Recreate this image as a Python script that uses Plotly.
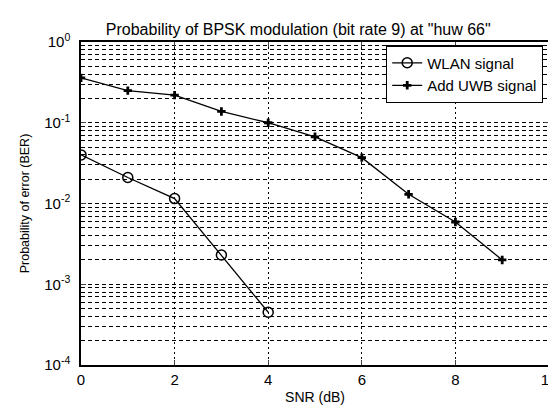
import plotly.graph_objects as go

snr_wlan = [0, 1, 2, 3, 4]
ber_wlan = [0.040, 0.021, 0.0115, 0.0023, 0.00045]
snr_uwb = [0, 1, 2, 3, 4, 5, 6, 7, 8, 9]
ber_uwb = [0.36, 0.25, 0.22, 0.138, 0.10, 0.067, 0.037, 0.013, 0.0059, 0.0020]

x_ticks = [0, 2, 4, 6, 8, 10]
y_tickvals = [1, 0.1, 0.01, 0.001, 0.0001]
y_ticktext = ["10<sup>0</sup>", "10<sup>-1</sup>", "10<sup>-2</sup>", "10<sup>-3</sup>", "10<sup>-4</sup>"]

fig = go.Figure()
fig.add_trace(go.Scatter(
    x=snr_wlan, y=ber_wlan, mode="lines+markers", name="WLAN signal",
    line=dict(color="black", width=1.3),
    marker=dict(symbol="circle-open", size=10, color="black", line=dict(width=1.5)),
))
fig.add_trace(go.Scatter(
    x=snr_uwb, y=ber_uwb, mode="lines+markers", name="Add UWB signal",
    line=dict(color="black", width=1.3),
    marker=dict(symbol="cross", size=7, color="black"),
))

fig.update_layout(
    width=556, height=407,
    margin=dict(l=73, r=15, t=34, b=50),
    paper_bgcolor="white", plot_bgcolor="white",
    font=dict(family="Arial, Liberation Sans, sans-serif", color="black", size=12),
    title=dict(text="Probability of BPSK modulation (bit rate 9) at \"huw 66\"",
               x=0.522, xanchor="center", y=0.948, yanchor="middle",
               font=dict(size=16)),
    showlegend=True,
    legend=dict(x=0.987, y=0.99, xanchor="right", yanchor="top",
                bgcolor="white", bordercolor="black", borderwidth=1.3,
                font=dict(size=15), tracegroupgap=0, itemwidth=30),
)
fig.update_xaxes(
    range=[0, 10], tickvals=x_ticks, ticks="inside", ticklen=5,
    showline=True, linecolor="black", linewidth=1.5, mirror="ticks",
    showgrid=True, gridcolor="black", griddash="2px,3px", gridwidth=1.2,
    zeroline=False, tickfont=dict(size=15), automargin=False,
    title=dict(text="SNR (dB)", font=dict(size=14), standoff=5),
)
fig.update_yaxes(
    type="log", range=[-4, 0], tickvals=y_tickvals, ticktext=y_ticktext,
    ticks="inside", ticklen=5, ticklabelstandoff=6,
    showline=True, linecolor="black", linewidth=1.5, mirror="ticks",
    showgrid=True, gridcolor="black", griddash="4px,3px", gridwidth=1.2,
    minor=dict(dtick="D1", showgrid=True, gridcolor="black", griddash="4px,3px", gridwidth=1.2, ticks=""),
    zeroline=False, tickfont=dict(size=15), automargin=False,
    title=dict(text="Probability of error (BER)", font=dict(size=12.5), standoff=12),
)

fig.write_html("out.html")
